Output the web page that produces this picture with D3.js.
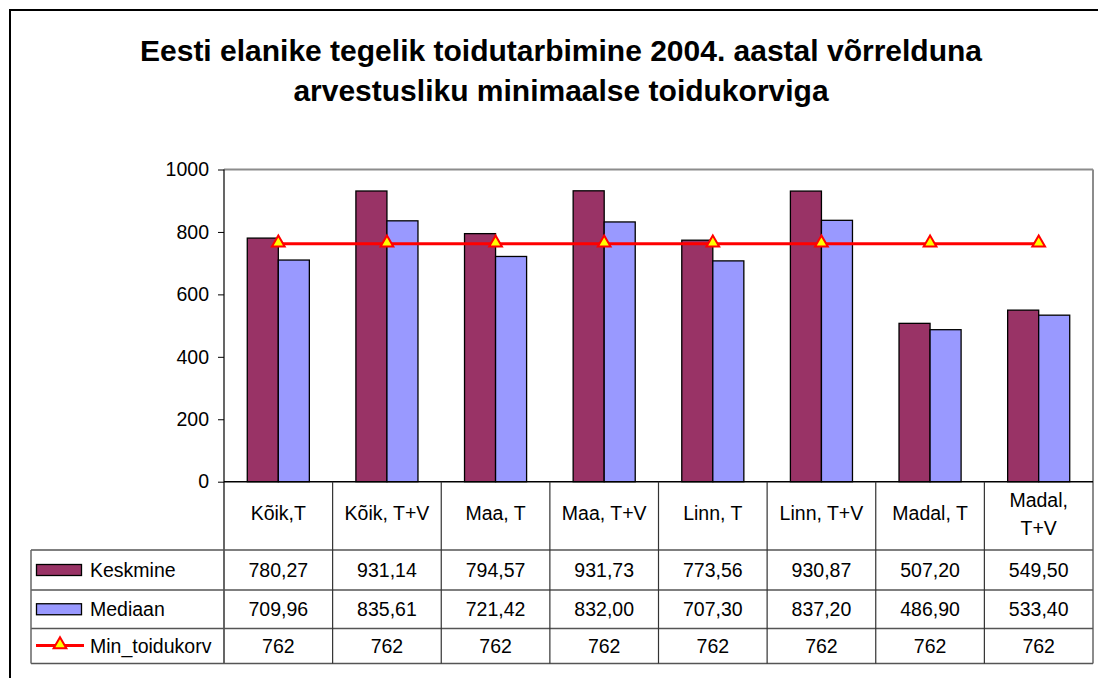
<!DOCTYPE html>
<html>
<head>
<meta charset="utf-8">
<script src="https://cdn.jsdelivr.net/npm/d3@7"></script>
<style>
html,body{margin:0;padding:0;background:#fff;overflow:hidden}
svg{display:block;font-family:"Liberation Sans",Arial,sans-serif}
</style>
</head>
<body>
<svg id="chart" width="1098" height="678"></svg>
<script>
const titleLines = ["Eesti elanike tegelik toidutarbimine 2004. aastal võrrelduna", "arvestusliku minimaalse toidukorviga"];
const categories = ["Kõik,T", "Kõik, T+V", "Maa, T", "Maa, T+V", "Linn, T", "Linn, T+V", "Madal, T", "Madal, T+V"];
const categoryLines = [["Kõik,T"], ["Kõik, T+V"], ["Maa, T"], ["Maa, T+V"], ["Linn, T"], ["Linn, T+V"], ["Madal, T"], ["Madal,", "T+V"]];
const keskmine = [780.27, 931.14, 794.57, 931.73, 773.56, 930.87, 507.20, 549.50];
const mediaan = [709.96, 835.61, 721.42, 832.00, 707.30, 837.20, 486.90, 533.40];
const minToidukorv = [762, 762, 762, 762, 762, 762, 762, 762];
const seriesNames = ["Keskmine", "Mediaan", "Min_toidukorv"];
const yTicks = [0, 200, 400, 600, 800, 1000];

const colors = {keskmine: "#993366", mediaan: "#9999FF", line: "#FF0000", marker: "#FFFF00"};
const L = {left: 224, right: 1093, top: 169.5, zero: 481.7, headerBottom: 550, rows: [550, 590, 628.5, 663.5], legendLeft: 31};
const fs = 19.5;

const svg = d3.select("#chart");
svg.append("rect").attr("width", 1098).attr("height", 678).attr("fill", "#fff");
// outer border
svg.append("rect").attr("x", 10).attr("y", 10).attr("width", 1200).attr("height", 800)
  .attr("fill", "none").attr("stroke", "#000").attr("stroke-width", 2);

// title
const title = svg.append("text").attr("text-anchor", "middle").attr("font-weight", "bold").attr("font-size", 30).attr("fill", "#000");
titleLines.forEach((t, i) => title.append("tspan").attr("x", 561).attr("y", 61 + i * 39.5).text(t));

const x = d3.scaleBand().domain(categories).range([L.left, L.right]).padding(0);
const y = d3.scaleLinear().domain([0, 1000]).range([L.zero, L.top]);
const bw = x.bandwidth() / 3.5;
const inner = d3.scaleBand().domain(["k", "m"]).range([0.75 * bw, 2.75 * bw]).padding(0);

// plot area border (gray top and right)
svg.append("line").attr("x1", L.left).attr("x2", L.right).attr("y1", L.top).attr("y2", L.top).attr("stroke", "#8c8c8c").attr("stroke-width", 2);
svg.append("line").attr("x1", L.right).attr("x2", L.right).attr("y1", L.top).attr("y2", L.rows[3]).attr("stroke", "#8c8c8c").attr("stroke-width", 2);

// bars
const g = svg.append("g");
g.selectAll("rect.k").data(keskmine).join("rect")
  .attr("x", (d, i) => x(categories[i]) + inner("k")).attr("width", inner.bandwidth())
  .attr("y", d => y(d)).attr("height", d => y(0) - y(d))
  .attr("fill", colors.keskmine).attr("stroke", "#000").attr("stroke-width", 1.3);
g.selectAll("rect.m").data(mediaan).join("rect")
  .attr("x", (d, i) => x(categories[i]) + inner("m")).attr("width", inner.bandwidth())
  .attr("y", d => y(d)).attr("height", d => y(0) - y(d))
  .attr("fill", colors.mediaan).attr("stroke", "#000").attr("stroke-width", 1.3);

// y axis
const yAxis = d3.axisLeft(y).tickValues(yTicks).tickSize(6).tickPadding(9).tickFormat(d3.format("d"));
const ya = svg.append("g").attr("transform", `translate(${L.left},0)`).call(yAxis);
ya.select(".domain").remove();
ya.selectAll("line").attr("stroke", "#000");
ya.selectAll("text").attr("font-size", fs).attr("font-family", "Liberation Sans, Arial, sans-serif").attr("fill", "#000");
svg.append("line").attr("x1", L.left).attr("x2", L.left).attr("y1", L.top).attr("y2", L.rows[3]).attr("stroke", "#000").attr("stroke-width", 1.2);
svg.append("line").attr("x1", L.left).attr("x2", L.right).attr("y1", L.zero).attr("y2", L.zero).attr("stroke", "#000").attr("stroke-width", 1.5);

// min line
const line = d3.line().x((d, i) => x(categories[i]) + x.bandwidth() / 2).y(d => y(d));
svg.append("path").datum(minToidukorv).attr("d", line).attr("fill", "none").attr("stroke", colors.line).attr("stroke-width", 3);
const tri = d3.symbol().type(d3.symbolTriangle).size(70);
svg.selectAll("path.mk").data(minToidukorv).join("path")
  .attr("transform", (d, i) => `translate(${x(categories[i]) + x.bandwidth() / 2},${y(d) - 1})`)
  .attr("d", tri()).attr("fill", colors.marker).attr("stroke", colors.line).attr("stroke-width", 2);

// data table
const tbl = svg.append("g");
L.rows.forEach(r => tbl.append("line").attr("x1", L.legendLeft).attr("x2", L.right).attr("y1", r).attr("y2", r).attr("stroke", "#555").attr("stroke-width", 1.3));
tbl.append("line").attr("x1", L.legendLeft).attr("x2", L.legendLeft).attr("y1", L.rows[0]).attr("y2", L.rows[3]).attr("stroke", "#666").attr("stroke-width", 1.5);
categories.slice(1).forEach(c => tbl.append("line").attr("x1", x(c)).attr("x2", x(c)).attr("y1", L.zero).attr("y2", L.rows[3]).attr("stroke", "#333").attr("stroke-width", 1.2));

// header labels
categoryLines.forEach((lines, i) => {
  const cx = x(categories[i]) + x.bandwidth() / 2;
  const t = tbl.append("text").attr("text-anchor", "middle").attr("font-size", fs).attr("fill", "#000");
  const base = lines.length === 1 ? 520 : 506.5;
  lines.forEach((s, j) => t.append("tspan").attr("x", cx).attr("y", base + j * 28.3).text(s));
});

const fmt = v => d3.format(".2f")(v).replace(".", ",");
const rowsData = [keskmine.map(fmt), mediaan.map(fmt), minToidukorv.map(d3.format("d"))];
rowsData.forEach((vals, r) => {
  const cy = (L.rows[r] + L.rows[r + 1]) / 2 + 7;
  vals.forEach((v, i) => tbl.append("text").attr("x", x(categories[i]) + x.bandwidth() / 2).attr("y", cy)
    .attr("text-anchor", "middle").attr("font-size", fs).attr("fill", "#000").text(v));
  tbl.append("text").attr("x", 90).attr("y", cy).attr("font-size", fs).attr("fill", "#000").text(seriesNames[r]);
});
[colors.keskmine, colors.mediaan].forEach((c, r) => {
  const cy = (L.rows[r] + L.rows[r + 1]) / 2;
  tbl.append("rect").attr("x", 36.5).attr("y", cy - 5.5).attr("width", 45).attr("height", 11).attr("fill", c).attr("stroke", "#000").attr("stroke-width", 1.3);
});
{
  const cy = (L.rows[2] + L.rows[3]) / 2 - 0.5;
  tbl.append("line").attr("x1", 36).attr("x2", 84).attr("y1", cy).attr("y2", cy).attr("stroke", colors.line).attr("stroke-width", 3);
  tbl.append("path").attr("transform", `translate(60,${cy - 1})`).attr("d", tri()).attr("fill", colors.marker).attr("stroke", colors.line).attr("stroke-width", 2);
}
</script>
</body>
</html>
